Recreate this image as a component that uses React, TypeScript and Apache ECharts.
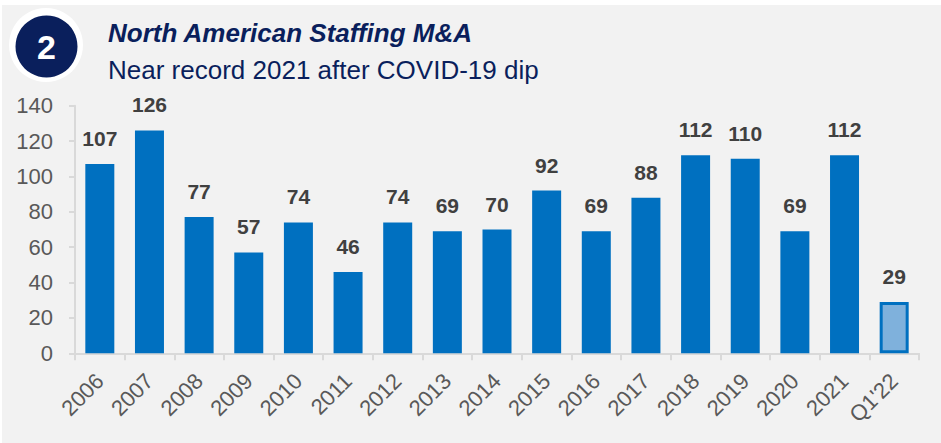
import React, { useEffect, useRef } from "react";
import * as echarts from "echarts";

const categories = ["2006", "2007", "2008", "2009", "2010", "2011", "2012", "2013", "2014", "2015", "2016", "2017", "2018", "2019", "2020", "2021", "Q1'22"];
const dealCounts = [107, 126, 77, 57, 74, 46, 74, 69, 70, 92, 69, 88, 112, 110, 69, 112, 29];
const partialPeriod = "Q1'22";
const yMin = 0;
const yMax = 140;
const yInterval = 20;
const badgeText = "2";
const titleText = "North American Staffing M&A";
const subtitleText = "Near record 2021 after COVID-19 dip";

const SANS = '"Liberation Sans", Arial, sans-serif';

export default function App() {
  const ref = useRef<HTMLDivElement>(null);
  useEffect(() => {
    if (!ref.current) return;
    const chart = echarts.init(ref.current, undefined, { renderer: "svg" });
    const data = categories.map((c, i) => {
      if (c === partialPeriod) {
        return {
          value: dealCounts[i],
          itemStyle: { color: "#7fb1dc", borderColor: "#0070c0", borderWidth: 3 },
        };
      }
      return { value: dealCounts[i] };
    });
    chart.setOption({
      animation: false,
      backgroundColor: "transparent",
      grid: { left: 75, right: 22, top: 105.7, bottom: 89.7, containLabel: false },
      xAxis: {
        type: "category",
        data: categories,
        boundaryGap: true,
        axisLine: { show: true, lineStyle: { color: "#d9d9d9", width: 2 } },
        axisTick: { show: true, length: 7, lineStyle: { color: "#d9d9d9", width: 2 } },
        axisLabel: {
          rotate: 45,
          interval: 0,
          margin: 24,
          fontFamily: SANS,
          fontSize: 22,
          color: "#595959",
        },
      },
      yAxis: {
        type: "value",
        min: yMin,
        max: yMax,
        interval: yInterval,
        splitLine: { show: false },
        axisLine: { show: true, lineStyle: { color: "#d9d9d9", width: 2 } },
        axisTick: { show: true, length: 6, lineStyle: { color: "#d9d9d9", width: 2 } },
        axisLabel: {
          margin: 22,
          fontFamily: SANS,
          fontSize: 22,
          color: "#595959",
        },
      },
      series: [
        {
          type: "bar",
          data,
          barWidth: 29,
          itemStyle: { color: "#0070c0" },
          label: {
            show: true,
            position: "top",
            distance: 15,
            fontFamily: SANS,
            fontWeight: "bold",
            fontSize: 21,
            color: "#404040",
          },
        },
      ],
      graphic: [
        { type: "circle", shape: { cx: 46, cy: 45, r: 37 }, style: { fill: "#ffffff" }, z: 10 },
        { type: "circle", shape: { cx: 46.5, cy: 46.5, r: 31 }, style: { fill: "#0a1f5c" }, z: 11 },
        {
          type: "text",
          x: 46.5,
          y: 47,
          z: 12,
          style: {
            text: badgeText,
            fill: "#ffffff",
            font: `bold 34px ${SANS}`,
            align: "center",
            verticalAlign: "middle",
          },
        },
        {
          type: "text",
          x: 108,
          y: 33,
          z: 12,
          style: {
            text: titleText,
            fill: "#0a1f5c",
            font: `italic bold 26px ${SANS}`,
            align: "left",
            verticalAlign: "middle",
          },
        },
        {
          type: "text",
          x: 108,
          y: 70,
          z: 12,
          style: {
            text: subtitleText,
            fill: "#0a1f5c",
            font: `26px ${SANS}`,
            align: "left",
            verticalAlign: "middle",
          },
        },
      ],
    });
    return () => chart.dispose();
  }, []);
  return (
    <div style={{ position: "absolute", left: 0, top: 0, width: 941, height: 443, background: "#ffffff" }}>
      <div style={{ position: "absolute", left: 2, top: 5, right: 0, bottom: 0, background: "#f2f2f2" }} />
      <div ref={ref} style={{ position: "absolute", left: 0, top: 0, width: 941, height: 443 }} />
    </div>
  );
}
